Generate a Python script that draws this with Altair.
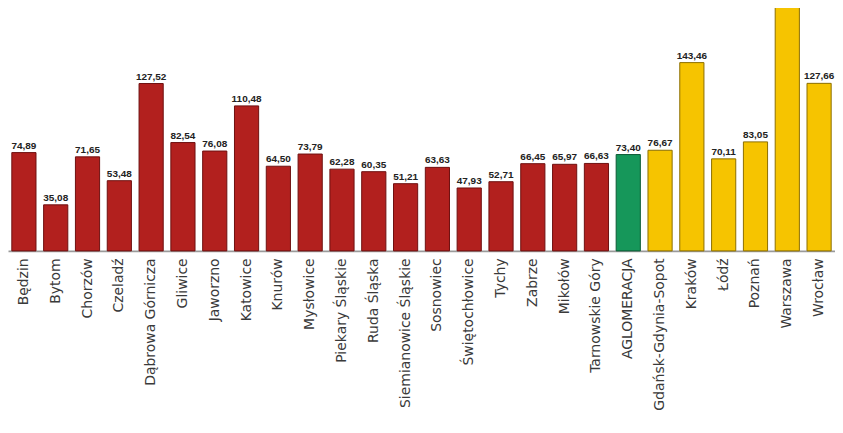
import altair as alt
import pandas as pd

cities = ["Będzin", "Bytom", "Chorzów", "Czeladź", "Dąbrowa Górnicza", "Gliwice",
          "Jaworzno", "Katowice", "Knurów", "Mysłowice", "Piekary Śląskie", "Ruda Śląska",
          "Siemianowice Śląskie", "Sosnowiec", "Świętochłowice", "Tychy", "Zabrze",
          "Mikołów", "Tarnowskie Góry", "AGLOMERACJA", "Gdańsk-Gdynia-Sopot", "Kraków",
          "Łódź", "Poznań", "Warszawa", "Wrocław"]
values = [74.89, 35.08, 71.65, 53.48, 127.52, 82.54, 76.08, 110.48, 64.50, 73.79,
          62.28, 60.35, 51.21, 63.63, 47.93, 52.71, 66.45, 65.97, 66.63, 73.40,
          76.67, 143.46, 70.11, 83.05, 185.61, 127.66]
groups = ["silesia"] * 19 + ["agglomeration"] + ["other"] * 6

df = pd.DataFrame({
    "city": cities,
    "value": values,
    "group": groups,
    "label": [f"{v:.2f}".replace(".", ",") for v in values],
})

xenc = alt.X("city:N", sort=cities, title=None,
             scale=alt.Scale(paddingInner=0.24, paddingOuter=0.12),
             axis=alt.Axis(labelAngle=-90, labelAlign="right", labelBaseline="middle",
                           labelFont="DejaVu Sans", labelFontSize=14, labelColor="#3a3a3a",
                           labelLimit=400, labelPadding=7, ticks=False,
                           domainColor="#9a9a9a", domainWidth=2, labelOverlap=False))
yenc = alt.Y("value:Q", scale=alt.Scale(domain=[0, 184.5], nice=False), axis=None)

bars = alt.Chart(df).mark_bar(strokeWidth=1, clip=False).encode(
    x=xenc, y=yenc,
    color=alt.Color("group:N", legend=None,
                    scale=alt.Scale(domain=["silesia", "agglomeration", "other"],
                                    range=["#b2201e", "#16975a", "#f6c400"])),
    stroke=alt.Stroke("group:N", legend=None,
                      scale=alt.Scale(domain=["silesia", "agglomeration", "other"],
                                      range=["#6e1010", "#0d5a35", "#8c6e00"])),
)

text = alt.Chart(df).mark_text(dy=-7, font="Liberation Sans", fontWeight="bold",
                               fontSize=10, color="#222222").encode(
    x=alt.X("city:N", sort=cities), y=yenc, text="label:N")

chart = (bars + text).properties(
    width=830, height=243,
    padding={"left": 0, "top": 0, "right": 0, "bottom": 175},
    autosize=alt.AutoSizeParams(type="none"),
).configure_view(stroke=None)

chart.save("out.html", embed_options={"renderer": "svg", "actions": False})
